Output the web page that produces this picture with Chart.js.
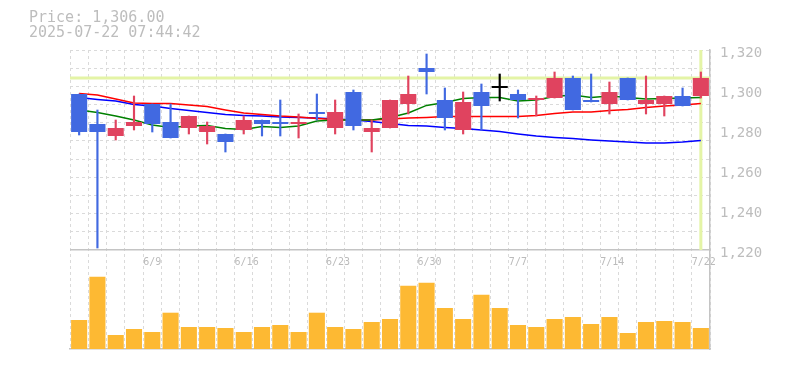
<!DOCTYPE html>
<html>
<head>
<meta charset="utf-8">
<title>Price chart</title>
<script src="https://cdn.jsdelivr.net/npm/chart.js@4.4.1/dist/chart.umd.min.js"></script>
<style>
  body { margin: 0; background: #fff; }
  #wrap { position: relative; width: 785px; height: 370px; }
  #info {
    position: absolute; left: 29px; top: 10px;
    font: 15px/15px "DejaVu Sans Mono", monospace; color: #bdbdbd; white-space: pre;
  }
</style>
</head>
<body>
<div id="wrap">
  <canvas id="priceChart" width="785" height="370"></canvas>
  <div id="info"></div>
</div>
<script>
const categories = ['6/3','6/4','6/5','6/6','6/9','6/10','6/11','6/12','6/13',
  '6/16','6/17','6/18','6/19','6/20','6/23','6/24','6/25','6/26','6/27',
  '6/30','7/1','7/2','7/3','7/4','7/7','7/8','7/9','7/10','7/11',
  '7/14','7/15','7/16','7/17','7/18','7/22'];
const xTickLabels = ['6/9','6/16','6/23','6/30','7/7','7/14','7/22'];
const priceTicks = [1220, 1240, 1260, 1280, 1300, 1320];

const opens  = [1298,1283,1277,1282,1293,1284,1281,1279,1278,1280,1285,1284,1283,1289,1281,1299,1279,1281,1293,1311,1295,1280,1299,1301,1298,1295,1296,1306,1295,1293,1306,1293,1293,1297,1297];
const highs  = [1298,1290,1285,1297,1293,1293,1287,1284,1278,1287,1285,1295,1288,1298,1295,1300,1285,1295,1307,1318,1301,1299,1303,1308,1300,1297,1309,1307,1308,1304,1306,1307,1297,1301,1309];
const lows   = [1277.5,1221,1275,1280,1279,1276,1278,1273,1269,1278,1277,1277,1276,1285,1278,1280,1269,1281,1288,1298,1280,1278,1280,1294.5,1286,1287,1296,1290,1294,1288,1295,1288,1287,1292,1296];
const closes = [1279,1279,1281,1284,1283,1276,1287,1282,1274,1285,1283,1283,1284,1288,1289,1282,1281,1295,1298,1309,1286,1294,1292,1301,1295,1296,1306,1290,1294,1299,1295,1295,1297,1292,1306];

// moving averages
const maShort = [1290,1288.7,1287,1285,1282.5,1281.3,1282,1282.3,1280.8,1280.3,1281.7,1281.3,1282,1284.5,1285,1285,1285,1286.3,1288.5,1292.3,1293.7,1295.8,1296.3,1296.3,1294.5,1295,1296.7,1297.5,1296.3,1297,1296.3,1295.5,1295.7,1296,1296.3];
const maMid   = [1298.3,1297.5,1295.5,1293.5,1293.3,1293.3,1292.5,1291.7,1290,1288.5,1287.8,1287,1286.5,1285.8,1285.3,1285,1285,1285.5,1286,1286.3,1286.7,1286.8,1286.8,1286.8,1286.8,1287.2,1288.3,1289,1289,1289.8,1290.3,1291.2,1292,1292.5,1293.3];
const maLong  = [1296.3,1295.3,1294.5,1292.8,1292,1290.8,1289.7,1288.7,1287.8,1287.3,1287,1286.5,1286.3,1286,1285.5,1285,1284.3,1283.3,1282.2,1282,1281.3,1280.8,1280,1279.2,1278,1277,1276.3,1275.7,1275,1274.5,1274,1273.5,1273.5,1274,1274.8];

const volumes = [29000,72300,14000,20000,17000,36300,22000,22000,21000,17000,22000,24000,17000,36300,22000,20000,27000,30000,63300,66300,41000,30000,54300,41000,24000,22000,30000,32000,25000,32000,16000,27000,28000,27000,21000];

const currentPrice = 1306;
const currentIndex = 34;
const timestamp = '2025-07-22 07:44:42';

document.getElementById('info').textContent =
  'Price: ' + currentPrice.toLocaleString('en-US', { minimumFractionDigits: 2 }) + '\n' + timestamp;

const UP = '#e0435f', DOWN = '#4169e1', FLAT = '#000000';
const candleColors = opens.map((o, i) => closes[i] > o ? UP : (closes[i] < o ? DOWN : FLAT));

// 11 horizontal grid divisions in the price panel
const gridValues = [];
for (let k = 0; k <= 11; k++) gridValues.push(1220 + k * 100 / 11);
const isGridValue = (v) => gridValues.some((g) => Math.abs(g - v) < 1e-6);
const isLabelValue = (v) => priceTicks.some((t) => Math.abs(t - v) < 1e-6);

// crosshair at current price / last candle, under the candles
const crosshair = {
  id: 'crosshair',
  beforeDatasetsDraw(chart) {
    const { ctx, chartArea, scales } = chart;
    const y = scales.yP.getPixelForValue(currentPrice);
    const x = scales.x.getPixelForValue(currentIndex);
    ctx.save();
    ctx.strokeStyle = '#e4f4a6';
    ctx.lineWidth = 3;
    ctx.beginPath();
    ctx.moveTo(chartArea.left, y);
    ctx.lineTo(chartArea.right, y);
    ctx.moveTo(x, scales.yP.top);
    ctx.lineTo(x, scales.yP.bottom);
    ctx.stroke();
    ctx.restore();
  }
};

// date labels sit inside the top of the volume panel
const dateLabels = {
  id: 'dateLabels',
  afterDraw(chart) {
    const { ctx, scales } = chart;
    const half = scales.x.width / categories.length / 2;
    ctx.save();
    ctx.font = '10px "DejaVu Sans Mono"';
    ctx.fillStyle = '#bbbbbb';
    ctx.textAlign = 'left';
    ctx.textBaseline = 'middle';
    xTickLabels.forEach((lbl) => {
      const i = categories.indexOf(lbl);
      if (i < 0) return;
      ctx.fillText(lbl, scales.x.getPixelForValue(i) - half, scales.yV.top + 12);
    });
    ctx.restore();
  }
};

const ctx = document.getElementById('priceChart');
new Chart(ctx, {
  type: 'bar',
  data: {
    labels: categories,
    datasets: [
      { type: 'line', label: 'MA short', data: maShort, borderColor: '#008000', borderWidth: 1.5, pointRadius: 0, tension: 0, yAxisID: 'yP', order: 3 },
      { type: 'line', label: 'MA mid', data: maMid, borderColor: '#ff0000', borderWidth: 1.5, pointRadius: 0, tension: 0, yAxisID: 'yP', order: 3 },
      { type: 'line', label: 'MA long', data: maLong, borderColor: '#0000ff', borderWidth: 1.5, pointRadius: 0, tension: 0, yAxisID: 'yP', order: 3 },
      { label: 'Volume', data: volumes, backgroundColor: '#fdb933', yAxisID: 'yV', order: 3,
        barPercentage: 0.88, categoryPercentage: 1, grouped: false },
      { label: 'Wick', data: lows.map((l, i) => [l, highs[i]]), backgroundColor: candleColors, yAxisID: 'yP', order: 2,
        barThickness: 1.5, grouped: false },
      { label: 'Body', data: opens.map((o, i) => [o, closes[i]]), backgroundColor: candleColors, yAxisID: 'yP', order: 1,
        barPercentage: 0.88, categoryPercentage: 1, minBarLength: 2, grouped: false }
    ]
  },
  options: {
    responsive: false,
    animation: false,
    devicePixelRatio: 1,
    layout: { padding: { left: 70, top: 50, right: 0, bottom: 21 } },
    plugins: { legend: { display: false }, tooltip: { enabled: false } },
    scales: {
      x: {
        type: 'category',
        offset: true,
        grid: { offset: true, color: '#dadada', drawTicks: false },
        border: { color: '#c4c4c4', width: 1.5, dash: [3, 3] },
        ticks: { display: false },
        afterFit: (s) => { s.height = 0; }
      },
      yP: {
        type: 'linear',
        position: 'right',
        stack: 'panels',
        stackWeight: 200,
        min: 1220,
        max: 1320,
        afterBuildTicks: (s) => {
          const vals = gridValues.concat(priceTicks.filter((t) => !isGridValue(t)));
          vals.sort((a, b) => a - b);
          s.ticks = vals.map((v) => ({ value: v }));
        },
        afterFit: (s) => { s.width = 75; },
        grid: {
          drawTicks: false,
          color: (c) => {
            const v = c.tick ? c.tick.value : 0;
            if (Math.abs(v - 1220) < 1e-6) return '#c4c4c4';
            return isGridValue(v) ? '#dadada' : 'rgba(0,0,0,0)';
          },
          lineWidth: (c) => (c.tick && Math.abs(c.tick.value - 1220) < 1e-6 ? 1.5 : 1)
        },
        border: {
          color: '#c4c4c4',
          width: 1.5,
          dash: (c) => (c.tick && Math.abs(c.tick.value - 1220) < 1e-6 ? [] : [3, 3])
        },
        ticks: {
          autoSkip: false,
          padding: 10,
          labelOffset: 3,
          color: '#bdbdbd',
          font: { family: 'DejaVu Sans Mono', size: 14 },
          callback: (v) => (isLabelValue(v) ? Math.round(v).toLocaleString('en-US') : '')
        }
      },
      yV: {
        type: 'linear',
        position: 'right',
        stack: 'panels',
        stackWeight: 99,
        min: 0,
        max: 99000,
        afterFit: (s) => { s.width = 75; },
        grid: { display: false },
        border: { color: '#c4c4c4', width: 1.5 },
        ticks: { display: false }
      }
    }
  },
  plugins: [crosshair, dateLabels]
});
</script>
</body>
</html>
